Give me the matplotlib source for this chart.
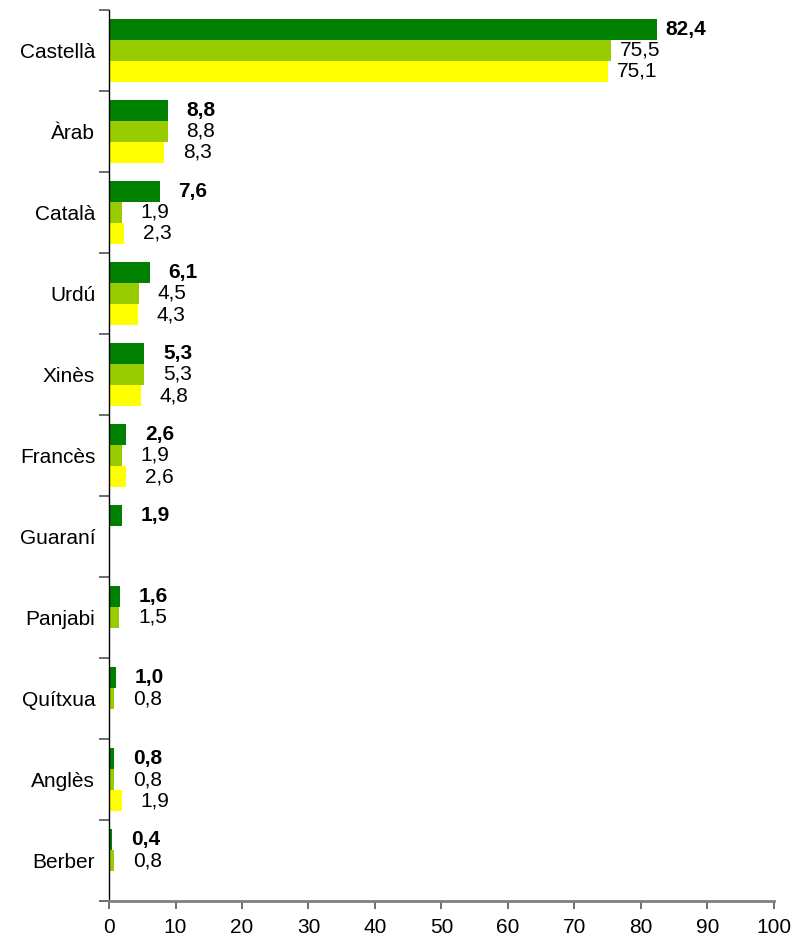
import numpy as np
import matplotlib
matplotlib.use("Agg")
import matplotlib.pyplot as plt
from matplotlib.ticker import FixedLocator

plt.rcParams['font.family'] = ['Liberation Sans', 'DejaVu Sans']

categories = ["Castellà", "Àrab", "Català", "Urdú", "Xinès", "Francès",
              "Guaraní", "Panjabi", "Quítxua", "Anglès", "Berber"]
series_a = [82.4, 8.8, 7.6, 6.1, 5.3, 2.6, 1.9, 1.6, 1.0, 0.8, 0.4]
series_b = [75.5, 8.8, 1.9, 4.5, 5.3, 1.9, np.nan, 1.5, 0.8, 0.8, 0.8]
series_c = [75.1, 8.3, 2.3, 4.3, 4.8, 2.6, np.nan, np.nan, np.nan, 1.9, np.nan]
x_ticks = [0, 10, 20, 30, 40, 50, 60, 70, 80, 90, 100]

colors = ["#008000", "#99CC00", "#FFFF00"]
weights = ["bold", "normal", "normal"]

fig = plt.figure(figsize=(7.96, 9.43), dpi=100)
ax = fig.add_axes([0.137, 0.0445, 0.835, 0.945])

y = np.arange(len(categories))
h = 0.26
for k, (vals, col, w) in enumerate(zip([series_a, series_b, series_c], colors, weights)):
    off = (k - 1) * h
    for yi, v in zip(y, vals):
        if v is None or np.isnan(v):
            continue
        ax.barh(yi + off, v, height=h, color=col, edgecolor='none')
        dx = 9 if v > 50 else 19
        ax.annotate(f"{v:.1f}".replace('.', ','), xy=(v, yi + off),
                    xytext=(dx, 0), textcoords='offset pixels',
                    ha='left', va='center', fontsize=15, fontweight=w,
                    color='black')

ax.set_xlim(0, 100)
ax.set_ylim(len(categories) - 0.5, -0.5)
ax.set_xticks(x_ticks)
ax.set_xticklabels([str(t) for t in x_ticks], fontsize=15)
ax.set_yticks(y)
ax.set_yticklabels(categories, fontsize=15)
ax.yaxis.set_minor_locator(FixedLocator(np.arange(-0.5, len(categories) + 0.5, 1)))
ax.tick_params(axis='y', which='major', length=0, pad=10)
ax.tick_params(axis='y', which='minor', length=7, width=1.2, color='#555555', direction='out')
ax.tick_params(axis='x', which='major', length=6, width=1.2, color='#555555', direction='out', pad=6)

for s in ['top', 'right']:
    ax.spines[s].set_visible(False)
ax.spines['left'].set_color('black')
ax.spines['left'].set_linewidth(1)
ax.spines['bottom'].set_color('#808080')
ax.spines['bottom'].set_linewidth(2)

fig.savefig("out.png", dpi=100)
